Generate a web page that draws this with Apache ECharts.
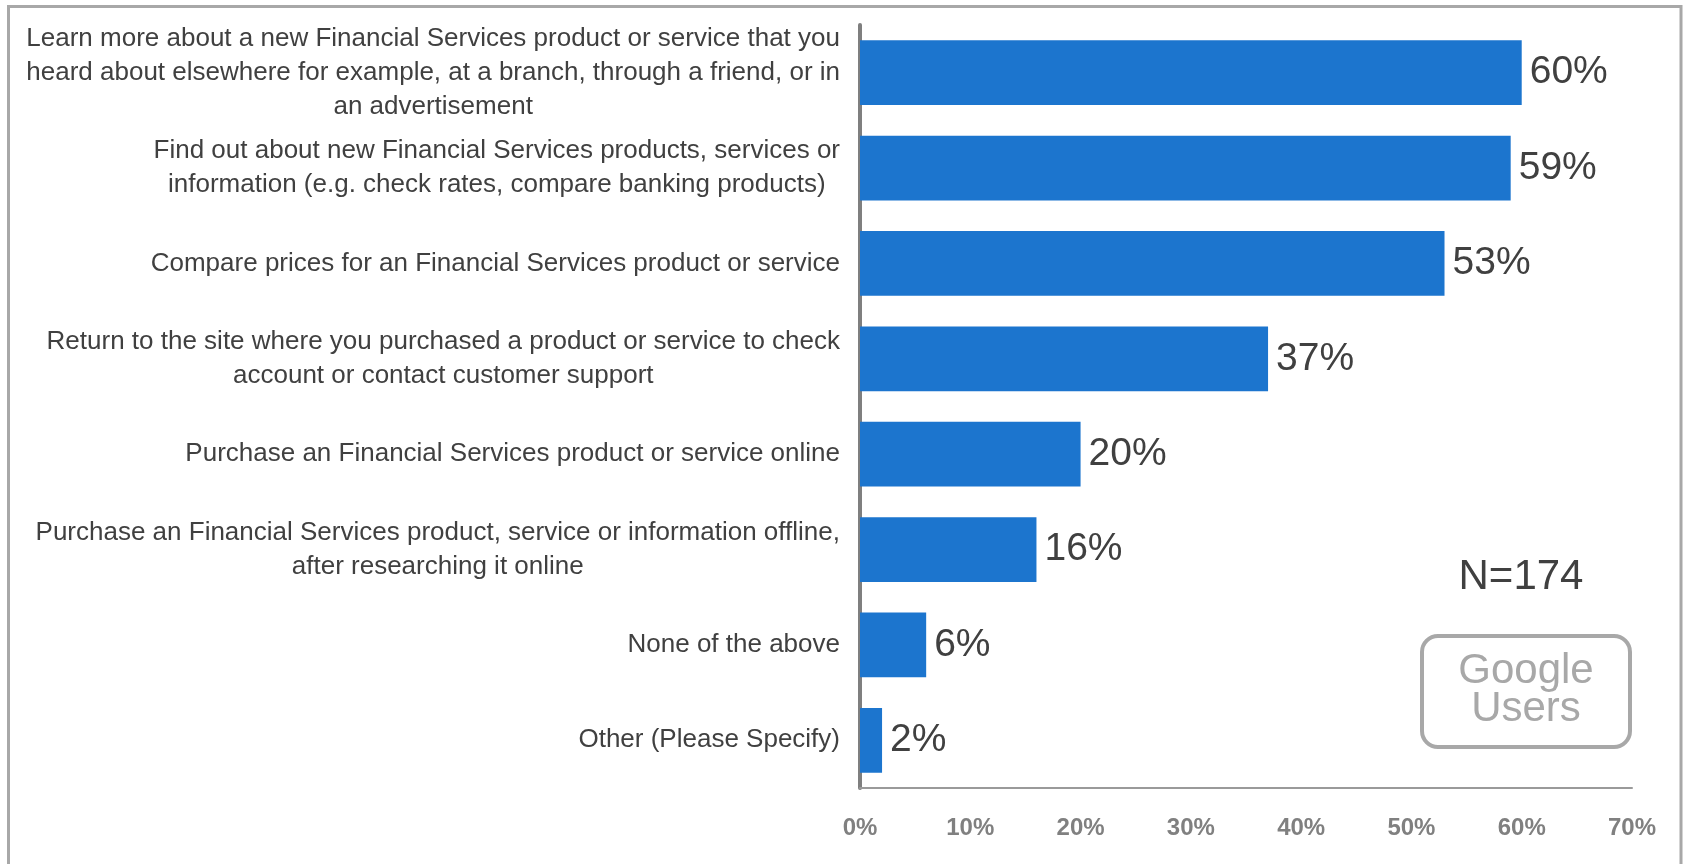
<!DOCTYPE html>
<html>
<head>
<meta charset="utf-8">
<title>Financial Services online activities</title>
<script src="https://cdn.jsdelivr.net/npm/echarts@6/dist/echarts.min.js"></script>
<style>
  html, body { margin: 0; padding: 0; background: #ffffff; }
  #chart { width: 1683px; height: 864px; }
</style>
</head>
<body>
<div id="chart"></div>
<script>
// Survey answers (multi-line labels use explicit breaks)
const categories = [
  'Learn more about a new Financial Services product or service that you\nheard about elsewhere for example, at a branch, through a friend, or in\nan advertisement',
  'Find out about new Financial Services products, services or\ninformation (e.g. check rates, compare banking products)',
  'Compare prices for an Financial Services product or service',
  'Return to the site where you purchased a product or service to check\naccount or contact customer support',
  'Purchase an Financial Services product or service online',
  'Purchase an Financial Services product, service or information offline,\nafter researching it online',
  'None of the above',
  'Other (Please Specify)'
];
// Share of respondents, percent
const values = [60, 59, 53, 37, 20, 16, 6, 2];
// Value axis ticks, percent
const tickValues = [0, 10, 20, 30, 40, 50, 60, 70];
const sampleLabel = 'N=174';
const badgeLines = ['Google', 'Users'];

const FONT = '"Liberation Sans", Arial, Helvetica, sans-serif';

const chart = echarts.init(document.getElementById('chart'), null, { renderer: 'canvas' });

chart.setOption({
  backgroundColor: '#ffffff',
  animation: false,
  textStyle: { fontFamily: FONT },
  grid: { left: 860, right: 51, top: 25, bottom: 76, containLabel: false },
  xAxis: {
    type: 'value',
    min: tickValues[0],
    max: tickValues[tickValues.length - 1],
    interval: tickValues[1] - tickValues[0],
    axisLine: { show: true, lineStyle: { color: '#9a9a9a', width: 2 } },
    axisTick: { show: false },
    splitLine: { show: false },
    axisLabel: {
      margin: 28,
      color: '#808080',
      fontFamily: FONT,
      fontWeight: 'bold',
      fontSize: 24,
      formatter: '{value}%'
    }
  },
  yAxis: {
    type: 'category',
    inverse: true,
    data: categories,
    axisLine: { show: true, lineStyle: { color: '#7f7f7f', width: 4, cap: 'round' } },
    axisTick: { show: false },
    axisLabel: {
      margin: 20,
      align: 'right',
      formatter: function (v) {
        return v.split('\n').map(function (line) { return '{c|' + line + '}'; }).join('\n');
      },
      rich: {
        c: {
          align: 'center',
          fontFamily: FONT,
          fontSize: 26,
          lineHeight: 34,
          color: '#404040'
        }
      }
    }
  },
  series: [{
    type: 'bar',
    data: values,
    barCategoryGap: '32%',
    itemStyle: { color: '#1c75ce' },
    label: {
      show: true,
      position: 'right',
      distance: 8,
      color: '#404040',
      fontFamily: FONT,
      fontSize: 39,
      formatter: '{c}%'
    }
  }],
  graphic: [
    {
      type: 'rect',
      silent: true,
      shape: { x: 8.5, y: 6.5, width: 1672.5, height: 880 },
      style: { fill: 'none', stroke: '#a8a8a8', lineWidth: 3 }
    },
    {
      type: 'text',
      silent: true,
      x: 1521,
      y: 577,
      style: {
        text: sampleLabel,
        fill: '#404040',
        font: '42px ' + FONT,
        textAlign: 'center',
        textVerticalAlign: 'middle'
      }
    },
    {
      type: 'rect',
      silent: true,
      shape: { x: 1422, y: 636, width: 208, height: 111, r: 16 },
      style: { fill: 'none', stroke: '#a8a8a8', lineWidth: 4 }
    },
    {
      type: 'text',
      silent: true,
      x: 1526,
      y: 690,
      style: {
        text: badgeLines.join('\n'),
        fill: '#a8a8a8',
        font: '42px ' + FONT,
        lineHeight: 38,
        textAlign: 'center',
        textVerticalAlign: 'middle'
      }
    }
  ]
});
</script>
</body>
</html>
